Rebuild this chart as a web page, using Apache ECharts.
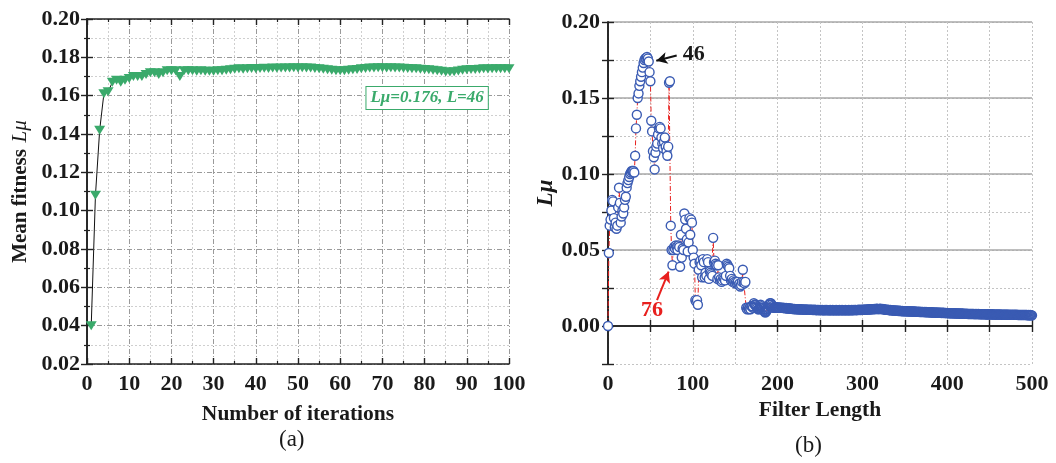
<!DOCTYPE html>
<html>
<head>
<meta charset="utf-8">
<script src="https://cdn.jsdelivr.net/npm/echarts@6/dist/echarts.min.js"></script>
<style>
html,body{margin:0;padding:0;background:#fff;}
#c{width:1056px;height:463px;}
</style>
</head>
<body>
<div id="c"></div>
<script>
// ---------- (a) Mean fitness vs iterations ----------
const iterations = [1,2,3,4,5,6,7,8,9,10,11,12,13,14,15,16,17,18,19,20,21,22,23,24,25,26,27,28,29,30,31,32,33,34,35,36,37,38,39,40,41,42,43,44,45,46,47,48,49,50,51,52,53,54,55,56,57,58,59,60,61,62,63,64,65,66,67,68,69,70,71,72,73,74,75,76,77,78,79,80,81,82,83,84,85,86,87,88,89,90,91,92,93,94,95,96,97,98,99,100];
const meanFitness = [
0.040,0.108,0.142,0.161,0.162,0.167,0.168,0.167,0.168,0.169,
0.170,0.170,0.170,0.171,0.172,0.172,0.171,0.172,0.173,0.173,
0.173,0.170,0.173,0.173,0.173,0.1728,0.173,0.1728,0.1727,0.1728,
0.173,0.173,0.1732,0.1735,0.1738,0.174,0.1738,0.174,0.1742,0.174,
0.1742,0.1743,0.1742,0.1744,0.1743,0.1745,0.1744,0.1745,0.1746,0.1745,
0.1746,0.1745,0.1744,0.1742,0.174,0.1738,0.1735,0.1732,0.173,0.173,
0.173,0.1732,0.1735,0.1737,0.174,0.1742,0.1744,0.1745,0.1746,0.1746,
0.1745,0.1746,0.1745,0.1744,0.1743,0.1742,0.174,0.174,0.1738,0.1737,
0.1735,0.1733,0.173,0.1727,0.1724,0.1723,0.1725,0.1729,0.1732,0.1735,
0.1736,0.1737,0.1738,0.174,0.1739,0.174,0.1741,0.174,0.1741,0.1741];
const fitnessNote = 'Lμ=0.176, L=46';

// ---------- (b) Lμ vs filter length ----------
// filter lengths 0..169 (step 1)
const lmuEarly = [
0.000,0.048,0.066,0.070,0.076,0.083,0.082,0.071,0.065,0.068,
0.064,0.066,0.078,0.091,0.081,0.068,0.072,0.076,0.074,0.078,
0.083,0.085,0.091,0.094,0.096,0.098,0.100,0.101,0.102,0.102,
0.102,0.101,0.112,0.130,0.139,0.150,0.153,0.158,0.161,0.164,
0.167,0.170,0.173,0.175,0.176,0.176,0.177,0.176,0.174,0.167,
0.161,0.135,0.128,0.115,0.111,0.103,0.114,0.118,0.120,0.126,
0.130,0.131,0.130,0.124,0.120,0.117,0.121,0.124,0.118,0.115,
0.112,0.118,0.160,0.161,0.066,0.050,0.040,0.050,0.052,0.051,
0.053,0.052,0.050,0.053,0.052,0.039,0.060,0.045,0.051,0.050,
0.074,0.070,0.064,0.057,0.049,0.055,0.071,0.060,0.070,0.068,
0.050,0.045,0.041,0.017,0.016,0.017,0.014,0.037,0.042,0.043,
0.040,0.032,0.044,0.042,0.032,0.035,0.033,0.044,0.042,0.031,
0.036,0.035,0.034,0.033,0.058,0.042,0.043,0.041,0.040,0.031,
0.040,0.032,0.030,0.031,0.029,0.030,0.032,0.031,0.030,0.033,
0.041,0.040,0.039,0.038,0.033,0.030,0.031,0.029,0.030,0.029,
0.028,0.029,0.028,0.029,0.027,0.028,0.026,0.027,0.029,0.037,
0.029,0.028,0.029,0.012,0.011,0.012,0.011,0.012,0.011,0.013];
// filter lengths 170..500 (step 1)
const lmuTail = [
0.013,0.012,0.015,0.014,0.014,0.013,0.012,0.011,0.011,0.012,
0.014,0.013,0.012,0.011,0.010,0.009,0.009,0.010,0.011,0.012,
0.014,0.015,0.015,0.014,0.013,0.012,0.012,0.0125,0.0123,0.0122,
.0122,.0121,.0122,.0120,.0121,.0119,.0120,.0118,.0119,.0117,
.0118,.0116,.0115,.0117,.0115,.0114,.0113,.0114,.0112,.0111,
.0112,.0111,.0110,.0111,.0110,.0109,.0111,.0109,.0110,.0108,
.0109,.0108,.0107,.0109,.0108,.0107,.0108,.0106,.0107,.0108,
.0106,.0107,.0105,.0106,.0107,.0105,.0104,.0106,.0105,.0104,
.0105,.0106,.0104,.0105,.0104,.0103,.0105,.0104,.0106,.0104,
.0103,.0104,.0105,.0104,.0103,.0105,.0104,.0103,.0104,.0105,
.0104,.0103,.0104,.0105,.0103,.0104,.0105,.0104,.0103,.0104,
.0105,.0104,.0103,.0104,.0105,.0104,.0103,.0105,.0104,.0105,
.0104,.0106,.0105,.0104,.0106,.0105,.0107,.0106,.0105,.0107,
.0106,.0107,.0108,.0107,.0108,.0109,.0108,.0109,.0110,.0109,
.0110,.0111,.0110,.0111,.0112,.0111,.0112,.0113,.0112,.0111,
.0112,.0113,.0112,.0111,.0112,.0110,.0109,.0108,.0107,.0106,
.0107,.0105,.0104,.0105,.0103,.0104,.0102,.0103,.0101,.0102,
.0101,.0100,.0101,.0099,.0100,.0099,.0098,.0099,.0097,.0098,
.0097,.0098,.0096,.0097,.0096,.0097,.0095,.0096,.0095,.0096,
.0095,.0094,.0095,.0094,.0093,.0094,.0093,.0094,.0092,.0093,
.0092,.0093,.0091,.0092,.0091,.0092,.0090,.0091,.0090,.0091,
.0090,.0089,.0090,.0089,.0088,.0089,.0088,.0089,.0087,.0088,
.0087,.0088,.0087,.0086,.0087,.0086,.0087,.0085,.0086,.0085,
.0086,.0085,.0084,.0085,.0084,.0085,.0083,.0084,.0083,.0084,
.0083,.0082,.0083,.0082,.0083,.0081,.0082,.0081,.0082,.0081,
.0080,.0081,.0080,.0081,.0080,.0079,.0080,.0079,.0080,.0079,
.0080,.0079,.0078,.0079,.0078,.0079,.0078,.0079,.0078,.0077,
.0078,.0077,.0078,.0077,.0078,.0077,.0076,.0077,.0076,.0077,
.0076,.0077,.0076,.0077,.0076,.0075,.0076,.0075,.0076,.0075,
.0076,.0075,.0076,.0075,.0074,.0075,.0074,.0075,.0074,.0075,
.0074,.0075,.0074,.0073,.0074,.0073,.0074,.0073,.0074,.0073,
.0074,.0073,.0074,.0073,.0072,.0073,.0072,.0073,.0072,.0073,
.0072,.0073,.0072,.0073,.0072,.0071,.0072,.0071,.0072,.0071,
.0070];
const peakLabel = '46';
const selectedLabel = '76';
const captions = ['(a)', '(b)'];

// ---------- build ----------
const F = 'Liberation Serif';
const GREEN = '#3aaa6b', BLUE = '#3a5bb3', RED = '#e8201e';
const leftData = iterations.map((x, i) => [x, meanFitness[i]]);
const rightData = [];
lmuEarly.forEach((v, i) => rightData.push([i, v]));
// dense tail: hollow (unfilled) rings so overlapping markers read as a solid band
lmuTail.forEach((v, i) => rightData.push({value: [170 + i, v], itemStyle: {color: 'rgba(255,255,255,0)'}}));

const lblStyle = {fontFamily: F, fontWeight: 'bold', fontSize: 22, color: '#1a1a1a'};
const nameStyle = {fontFamily: F, fontWeight: 'bold', fontSize: 21.5, color: '#1a1a1a'};
const axLine = {show: true, lineStyle: {color: '#222', width: 1.6}};
const tickIn = {show: true, inside: true, length: 6, lineStyle: {color: '#222', width: 1.4}};
const minorIn = {show: true, splitNumber: 2, length: 3, lineStyle: {color: '#222', width: 1.2}};
const isMult = (v, s) => Math.abs(Math.round(v / s) * s - v) < 1e-9;

const chart = echarts.init(document.getElementById('c'), null, {renderer: 'canvas'});
chart.setOption({
  animation: false,
  backgroundColor: '#fff',
  grid: [
    {left: 87, right: 547, top: 19, bottom: 99},
    {left: 608, right: 24, top: 22, bottom: 99}
  ],
  xAxis: [
    {gridIndex: 0, type: 'value', min: 0, max: 100, interval: 10, position: 'bottom',
     axisLine: axLine, axisTick: tickIn, minorTick: minorIn,
     axisLabel: Object.assign({margin: 9}, lblStyle),
     splitLine: {show: true, lineStyle: {color: '#9a9a9a', width: 1, type: [5, 2, 1, 2]}},
     minorSplitLine: {show: true, lineStyle: {color: '#cfcfcf', width: 1, type: [2, 2]}},
     name: 'Number of iterations', nameLocation: 'middle', nameGap: 39, nameTextStyle: nameStyle},
    {gridIndex: 0, type: 'value', min: 0, max: 100, interval: 10, position: 'top',
     axisLine: axLine, axisTick: tickIn, minorTick: minorIn, axisLabel: {show: false}, splitLine: {show: false}},
    {gridIndex: 1, type: 'value', min: 0, max: 500, interval: 50, position: 'bottom',
     axisLine: axLine, axisTick: tickIn,
     axisLabel: Object.assign({margin: 9, formatter: v => (v % 100 === 0 ? String(v) : '')}, lblStyle),
     splitLine: {show: true, lineStyle: {color: '#c4c4c4', width: 1, type: [2, 2]}},
     name: 'Filter Length', nameLocation: 'middle', nameGap: 34, nameTextStyle: nameStyle},
    {gridIndex: 1, type: 'value', min: 0, max: 500, interval: 50, position: 'top',
     axisLine: axLine, axisTick: tickIn, axisLabel: {show: false}, splitLine: {show: false}}
  ],
  yAxis: [
    {gridIndex: 0, type: 'value', min: 0.02, max: 0.2, interval: 0.02, position: 'left',
     axisLine: axLine, axisTick: tickIn, minorTick: minorIn,
     axisLabel: Object.assign({margin: 7, formatter: v => v.toFixed(2)}, lblStyle),
     splitLine: {show: true, lineStyle: {color: '#9a9a9a', width: 1, type: [5, 2, 1, 2]}},
     minorSplitLine: {show: true, lineStyle: {color: '#cfcfcf', width: 1, type: [2, 2]}},
     name: '{b|Mean fitness}  {i|Lμ}', nameLocation: 'middle', nameGap: 56,
     nameTextStyle: {rich: {
       b: {fontFamily: F, fontWeight: 'bold', fontSize: 21, color: '#1a1a1a'},
       i: {fontFamily: F, fontStyle: 'italic', fontSize: 21, color: '#1a1a1a'}}}},
    {gridIndex: 0, type: 'value', min: 0.02, max: 0.2, interval: 0.02, position: 'right',
     axisLine: axLine, axisTick: tickIn, minorTick: minorIn, axisLabel: {show: false}, splitLine: {show: false}},
    {gridIndex: 1, type: 'value', min: -0.025, max: 0.2, interval: 0.025, position: 'left',
     axisLine: axLine, axisTick: tickIn,
     axisLabel: Object.assign({margin: 8, formatter: v => (v > -1e-9 && isMult(v, 0.05) ? v.toFixed(2) : '')}, lblStyle),
     splitLine: {show: true, lineStyle: {color: '#c4c4c4', width: 1, type: [2, 2]}},
     name: 'Lμ', nameLocation: 'middle', nameGap: 49,
     nameTextStyle: {fontFamily: F, fontWeight: 'bold', fontStyle: 'italic', fontSize: 23, color: '#1a1a1a'}},
    {gridIndex: 1, type: 'value', min: -0.025, max: 0.2, interval: 0.025, position: 'right',
     axisLine: axLine, axisTick: tickIn, axisLabel: {show: false},
     splitLine: {show: true, lineStyle: {color: ['rgba(0,0,0,0)', '#a8a8a8'], width: 1.6, type: 'solid'}}}
  ],
  series: [
    {type: 'line', xAxisIndex: 0, yAxisIndex: 0, data: leftData, clip: false,
     symbol: 'triangle', symbolRotate: 180, symbolSize: [11, 9],
     itemStyle: {color: GREEN}, lineStyle: {color: '#111', width: 1}, z: 3,
     markPoint: {silent: true, symbol: 'rect', symbolSize: 0,
       data: [{coord: [80.6, 0.1588], value: fitnessNote}],
       label: {show: true, position: 'inside', formatter: fitnessNote,
         fontFamily: F, fontStyle: 'italic', fontWeight: 'bold', fontSize: 17, color: GREEN,
         backgroundColor: '#fff', borderColor: GREEN, borderWidth: 1, padding: [3, 4, 2, 4]}}},
    {type: 'line', xAxisIndex: 2, yAxisIndex: 2, data: rightData, clip: false,
     symbol: 'circle', symbolSize: 9, showAllSymbol: true, sampling: null,
     itemStyle: {color: '#fff', borderColor: BLUE, borderWidth: 1.4},
     lineStyle: {color: RED, width: 1, type: [5, 2, 1, 2]}, z: 3,
     markLine: {silent: true, symbol: ['none', 'arrow'], symbolSize: [9, 11], label: {show: false},
       data: [
         [{coord: [81, 0.178], lineStyle: {color: '#111', width: 2, type: 'solid'}}, {coord: [57, 0.1745]}],
         [{coord: [57.8, 0.0171], lineStyle: {color: RED, width: 2, type: 'solid'}}, {coord: [71.5, 0.0358]}]
       ]},
     markPoint: {silent: true, symbol: 'rect', symbolSize: 0,
       data: [
         {coord: [101, 0.179], label: {formatter: peakLabel, color: '#1a1a1a'}},
         {coord: [52, 0.0105], label: {formatter: selectedLabel, color: RED}}
       ],
       label: {show: true, position: 'inside', fontFamily: F, fontWeight: 'bold', fontSize: 22}}}
  ],
  graphic: [
    {type: 'text', left: 279, top: 428, style: {text: captions[0], font: '23px "Liberation Serif"', fill: '#1a1a1a'}},
    {type: 'text', left: 795, top: 434, style: {text: captions[1], font: '23px "Liberation Serif"', fill: '#1a1a1a'}}
  ]
});
</script>
</body>
</html>
